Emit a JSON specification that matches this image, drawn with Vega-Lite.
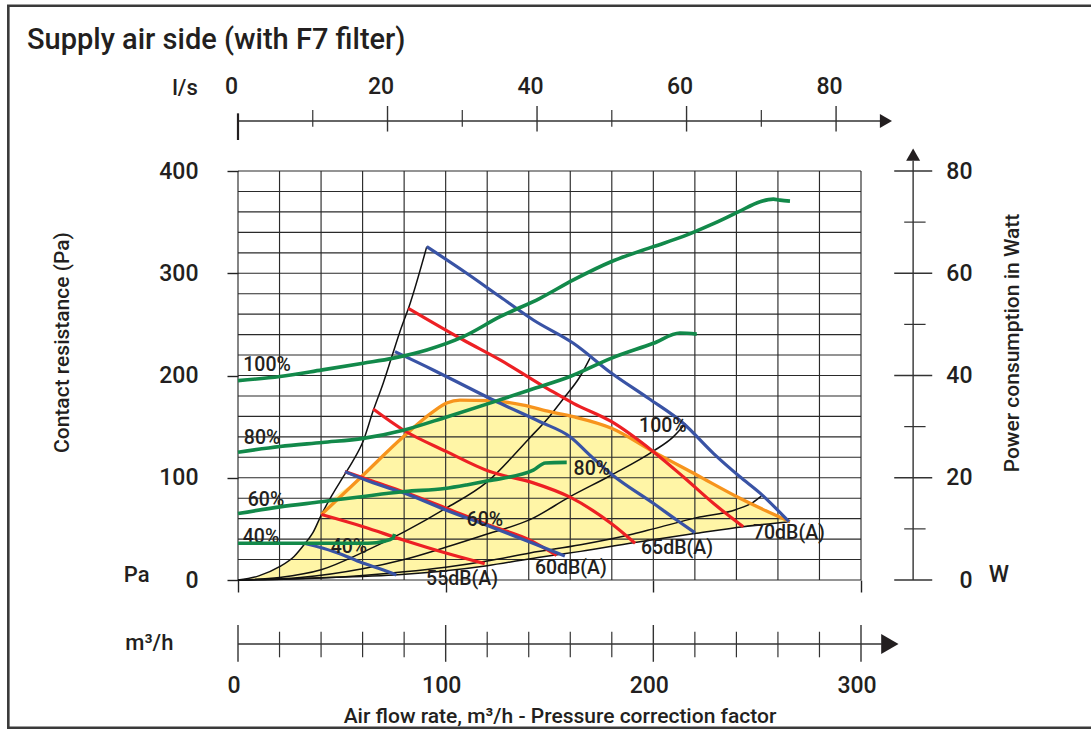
{
  "$schema": "https://vega.github.io/schema/vega-lite/v6.json",
  "width": 623,
  "height": 409,
  "autosize": {"type": "none"},
  "padding": {"left": 238, "top": 171, "right": 230, "bottom": 149},
  "background": "white",
  "config": {
    "view": {"stroke": null},
    "font": "Roboto",
    "axis": {"labelFont": "Roboto", "titleFont": "Roboto", "labelColor": "#231f20", "titleColor": "#231f20", "titleFontWeight": 500, "labelFontWeight": 500, "tickColor": "#333333", "grid": false}
  },
  "datasets": {
    "paTicks": [{"p":0},{"p":20},{"p":40},{"p":60},{"p":80},{"p":100},{"p":120},{"p":140},{"p":160},{"p":180},{"p":200},{"p":220},{"p":240},{"p":260},{"p":280},{"p":300},{"p":320},{"p":340},{"p":360},{"p":380},{"p":400}],
    "flowTicks": [{"q":0,"major":true},{"q":20,"major":false},{"q":40,"major":false},{"q":60,"major":false},{"q":80,"major":false},{"q":100,"major":true},{"q":120,"major":false},{"q":140,"major":false},{"q":160,"major":false},{"q":180,"major":false},{"q":200,"major":true},{"q":220,"major":false},{"q":240,"major":false},{"q":260,"major":false},{"q":280,"major":false},{"q":300,"major":true}],
    "wTicks": [{"w":0,"major":true},{"w":10,"major":false},{"w":20,"major":true},{"w":30,"major":false},{"w":40,"major":true},{"w":50,"major":false},{"w":60,"major":true},{"w":70,"major":false},{"w":80,"major":true}],
    "lsTicks": [{"ls":0,"kind":"origin"},{"ls":10,"kind":"minor"},{"ls":20,"kind":"major"},{"ls":30,"kind":"minor"},{"ls":40,"kind":"major"},{"ls":50,"kind":"minor"},{"ls":60,"kind":"major"},{"ls":70,"kind":"minor"},{"ls":80,"kind":"major"}],
    "zone": [
      {"x":0,"top":0,"bottom":0},{"x":10,"top":4,"bottom":0.4},{"x":20,"top":13,"bottom":0.8},{"x":27,"top":23,"bottom":1.3},{"x":32,"top":35,"bottom":1.7},{"x":36,"top":46,"bottom":2},{"x":40.2,"top":64,"bottom":2.2},{"x":58.7,"top":99.5,"bottom":3.4},{"x":79.6,"top":140,"bottom":5.8},{"x":94,"top":164.6,"bottom":8},{"x":100.5,"top":173,"bottom":9.1},{"x":106.9,"top":176,"bottom":10.4},{"x":121.3,"top":175.5,"bottom":14.3},{"x":137.4,"top":171,"bottom":19.7},{"x":150.2,"top":164.6,"bottom":23.7},{"x":161.5,"top":159.7,"bottom":27},{"x":179.9,"top":148.4,"bottom":33},{"x":200,"top":125.5,"bottom":39.4},{"x":220.9,"top":102.7,"bottom":45.7},{"x":241.7,"top":79.9,"bottom":51.7},{"x":265.8,"top":57,"bottom":57}
    ],
    "system": [
      {"curve":"c1","x":0,"pa":0},{"curve":"c1","x":10,"pa":4},{"curve":"c1","x":20,"pa":13},{"curve":"c1","x":27,"pa":23},{"curve":"c1","x":32,"pa":35},{"curve":"c1","x":36,"pa":46},{"curve":"c1","x":40.2,"pa":64},{"curve":"c1","x":45,"pa":82},{"curve":"c1","x":50.7,"pa":101},{"curve":"c1","x":55.5,"pa":117},{"curve":"c1","x":60.3,"pa":136},{"curve":"c1","x":65,"pa":165},{"curve":"c1","x":70,"pa":193},{"curve":"c1","x":74,"pa":218},{"curve":"c1","x":78,"pa":243},{"curve":"c1","x":82.8,"pa":270},{"curve":"c1","x":90.9,"pa":326},
      {"curve":"c2","x":0,"pa":0},{"curve":"c2","x":20,"pa":2.5},{"curve":"c2","x":40,"pa":10},{"curve":"c2","x":60,"pa":27},{"curve":"c2","x":80,"pa":47},{"curve":"c2","x":100,"pa":70},{"curve":"c2","x":120,"pa":96},{"curve":"c2","x":140,"pa":138},{"curve":"c2","x":150,"pa":160},{"curve":"c2","x":156.6,"pa":177},{"curve":"c2","x":165,"pa":200},{"curve":"c2","x":169.5,"pa":217},
      {"curve":"c3","x":0,"pa":0},{"curve":"c3","x":30,"pa":2.5},{"curve":"c3","x":60,"pa":11},{"curve":"c3","x":80,"pa":20},{"curve":"c3","x":100,"pa":32},{"curve":"c3","x":120,"pa":45},{"curve":"c3","x":140.6,"pa":59},{"curve":"c3","x":159.9,"pa":81.5},{"curve":"c3","x":179.9,"pa":102.7},{"curve":"c3","x":200,"pa":126},{"curve":"c3","x":209.6,"pa":140},{"curve":"c3","x":215.5,"pa":153},
      {"curve":"c4","x":0,"pa":0},{"curve":"c4","x":40,"pa":2},{"curve":"c4","x":60,"pa":4.5},{"curve":"c4","x":80,"pa":8},{"curve":"c4","x":100,"pa":12.5},{"curve":"c4","x":120,"pa":18.5},{"curve":"c4","x":140.6,"pa":26.5},{"curve":"c4","x":165,"pa":34.5},{"curve":"c4","x":190.3,"pa":45},{"curve":"c4","x":200,"pa":50},{"curve":"c4","x":220.9,"pa":61},{"curve":"c4","x":240,"pa":69},{"curve":"c4","x":248,"pa":76},{"curve":"c4","x":252,"pa":82},
      {"curve":"c5","x":0,"pa":0},{"curve":"c5","x":20,"pa":0.8},{"curve":"c5","x":40,"pa":2.2},{"curve":"c5","x":60,"pa":3.5},{"curve":"c5","x":75.4,"pa":5},{"curve":"c5","x":100,"pa":9},{"curve":"c5","x":120,"pa":14},{"curve":"c5","x":144.5,"pa":22},{"curve":"c5","x":165,"pa":28},{"curve":"c5","x":190.3,"pa":36.5},{"curve":"c5","x":220.9,"pa":45.7},{"curve":"c5","x":243.3,"pa":52.1},{"curve":"c5","x":265.8,"pa":57}
    ],
    "limit": [
      {"x":40.2,"pa":64},{"x":58.7,"pa":99.5},{"x":79.6,"pa":140},{"x":94,"pa":164.6},{"x":100.5,"pa":173},{"x":106.9,"pa":176},{"x":121.3,"pa":175.5},{"x":137.4,"pa":171},{"x":150.2,"pa":164.6},{"x":161.5,"pa":159.7},{"x":179.9,"pa":148.4},{"x":200,"pa":125.5},{"x":220.9,"pa":102.7},{"x":241.7,"pa":79.9},{"x":265.8,"pa":57}
    ],
    "fan": [
      {"speed":"100%","x":90.9,"pa":326},{"speed":"100%","x":110.1,"pa":300},{"speed":"100%","x":126.2,"pa":277},{"speed":"100%","x":142.2,"pa":254.3},{"speed":"100%","x":161.5,"pa":231.5},{"speed":"100%","x":179.9,"pa":202.2},{"speed":"100%","x":197.6,"pa":177.7},{"speed":"100%","x":214.4,"pa":153.3},{"speed":"100%","x":228.9,"pa":123.9},{"speed":"100%","x":241.7,"pa":101},{"speed":"100%","x":251.4,"pa":85},{"speed":"100%","x":265.3,"pa":57},
      {"speed":"80%","x":75.6,"pa":223.3},{"speed":"80%","x":94,"pa":205.4},{"speed":"80%","x":110.1,"pa":189},{"speed":"80%","x":122.9,"pa":176},{"speed":"80%","x":145.4,"pa":154.8},{"speed":"80%","x":159.9,"pa":140.1},{"speed":"80%","x":170,"pa":121},{"speed":"80%","x":180.3,"pa":102.7},{"speed":"80%","x":200,"pa":75},{"speed":"80%","x":211.2,"pa":58.7},{"speed":"80%","x":220,"pa":46.3},
      {"speed":"60%","x":51.5,"pa":106},{"speed":"60%","x":65,"pa":95},{"speed":"60%","x":80.3,"pa":84.8},{"speed":"60%","x":100,"pa":68.5},{"speed":"60%","x":120.4,"pa":53},{"speed":"60%","x":142,"pa":36},{"speed":"60%","x":157.4,"pa":23.5},
      {"speed":"40%","x":31.8,"pa":36},{"speed":"40%","x":41,"pa":31},{"speed":"40%","x":50,"pa":25},{"speed":"40%","x":59.4,"pa":17},{"speed":"40%","x":69,"pa":10.5},{"speed":"40%","x":76.2,"pa":5}
    ],
    "noise": [
      {"level":"55dB(A)","x":40.2,"pa":64},{"level":"55dB(A)","x":60.3,"pa":52.1},{"level":"55dB(A)","x":79.6,"pa":39.1},{"level":"55dB(A)","x":100.5,"pa":26.1},{"level":"55dB(A)","x":118.8,"pa":16},
      {"level":"60dB(A)","x":51.5,"pa":106},{"level":"60dB(A)","x":65,"pa":96.5},{"level":"60dB(A)","x":80,"pa":86},{"level":"60dB(A)","x":100.5,"pa":70},{"level":"60dB(A)","x":121,"pa":53.5},{"level":"60dB(A)","x":140.6,"pa":39},{"level":"60dB(A)","x":153.4,"pa":24},
      {"level":"65dB(A)","x":65.1,"pa":167.2},{"level":"65dB(A)","x":79.6,"pa":146.7},{"level":"65dB(A)","x":100.5,"pa":125.5},{"level":"65dB(A)","x":121.3,"pa":106},{"level":"65dB(A)","x":142.2,"pa":95},{"level":"65dB(A)","x":159.9,"pa":81},{"level":"65dB(A)","x":179.9,"pa":55},{"level":"65dB(A)","x":191.2,"pa":36},
      {"level":"70dB(A)","x":82,"pa":265.7},{"level":"70dB(A)","x":108.5,"pa":234.7},{"level":"70dB(A)","x":126.2,"pa":215.2},{"level":"70dB(A)","x":150.2,"pa":185.8},{"level":"70dB(A)","x":161.5,"pa":172.8},{"level":"70dB(A)","x":179.9,"pa":154.8},{"level":"70dB(A)","x":200,"pa":125.5},{"level":"70dB(A)","x":214.4,"pa":101},{"level":"70dB(A)","x":228.9,"pa":75},{"level":"70dB(A)","x":243.3,"pa":52.1}
    ],
    "power": [
      {"speed":"100%","x":0,"w":39},{"speed":"100%","x":20.2,"w":39.8},{"speed":"100%","x":40.6,"w":41.1},{"speed":"100%","x":60.3,"w":42.4},{"speed":"100%","x":74.8,"w":43.4},{"speed":"100%","x":90.9,"w":45},{"speed":"100%","x":108.5,"w":47.6},{"speed":"100%","x":126.2,"w":51.5},{"speed":"100%","x":145.4,"w":55.1},{"speed":"100%","x":161.5,"w":58.7},{"speed":"100%","x":179.9,"w":62.3},{"speed":"100%","x":200,"w":65.2},{"speed":"100%","x":214.4,"w":67.2},{"speed":"100%","x":227.3,"w":69.4},{"speed":"100%","x":240.9,"w":72},{"speed":"100%","x":251.4,"w":74},{"speed":"100%","x":257.8,"w":74.5},{"speed":"100%","x":261,"w":74.3},{"speed":"100%","x":265.8,"w":74.1},
      {"speed":"80%","x":0,"w":25},{"speed":"80%","x":20.2,"w":26.1},{"speed":"80%","x":40.6,"w":26.9},{"speed":"80%","x":60.3,"w":27.7},{"speed":"80%","x":79.6,"w":29.3},{"speed":"80%","x":100.5,"w":31.9},{"speed":"80%","x":121.3,"w":34.6},{"speed":"80%","x":142.2,"w":37.4},{"speed":"80%","x":159.9,"w":39.8},{"speed":"80%","x":179.9,"w":43.4},{"speed":"80%","x":200,"w":46.3},{"speed":"80%","x":212.8,"w":48.3},{"speed":"80%","x":220.9,"w":48.1},
      {"speed":"60%","x":0,"w":13},{"speed":"60%","x":20.2,"w":14.3},{"speed":"60%","x":40.1,"w":15.3},{"speed":"60%","x":59.4,"w":16.3},{"speed":"60%","x":80.3,"w":17.3},{"speed":"60%","x":99.5,"w":17.9},{"speed":"60%","x":110.1,"w":18.6},{"speed":"60%","x":120.4,"w":19.4},{"speed":"60%","x":142.2,"w":21.5},{"speed":"60%","x":148,"w":22.9},{"speed":"60%","x":158.3,"w":23},
      {"speed":"40%","x":0,"w":7.2},{"speed":"40%","x":30,"w":7.2},{"speed":"40%","x":62.6,"w":7.2},{"speed":"40%","x":70.6,"w":7.6},{"speed":"40%","x":74.6,"w":8.2},{"speed":"40%","x":75.4,"w":9}
    ],
    "labels": [
      {"text":"100%","x":14,"pa":210.3},{"text":"80%","x":11.6,"pa":138.9},{"text":"60%","x":13.5,"pa":78.2},{"text":"40%","x":11.1,"pa":42.1},
      {"text":"40%","x":53.4,"pa":32.3},{"text":"60%","x":118.9,"pa":58.7},{"text":"80%","x":170.4,"pa":108.6},{"text":"100%","x":204.6,"pa":150.6},
      {"text":"55dB(A)","x":107.9,"pa":1},{"text":"60dB(A)","x":160.3,"pa":11.7},{"text":"65dB(A)","x":211.4,"pa":31.3},{"text":"70dB(A)","x":265.3,"pa":45.6}
    ]
  },
  "layer": [
    {
      "layer": [
        {
          "data": {"values": [{}]},
          "mark": {"type": "rect", "fillOpacity": 0, "stroke": "#3a3a3a", "strokeWidth": 2.6},
          "encoding": {
            "x": {"datum": -110.6, "type": "quantitative", "scale": {"domain": [0, 300], "nice": false, "zero": false}},
            "x2": {"datum": 413},
            "y": {"datum": 561.6, "type": "quantitative", "scale": {"domain": [0, 400], "nice": false, "zero": false}},
            "y2": {"datum": -144.5}
          }
        },
        {
          "data": {"name": "zone"},
          "mark": {"type": "area", "color": "#fff5a6", "interpolate": "monotone"},
          "encoding": {
            "x": {"field": "x", "type": "quantitative", "scale": {"domain": [0, 300], "nice": false, "zero": false},
              "axis": {"values": [0, 100, 200, 300], "labels": false, "domain": false, "grid": false, "tickSize": 12, "tickColor": "#222222", "tickWidth": 1.4,
                "title": "Air flow rate, m³/h - Pressure correction factor", "titleFontSize": 21, "titleX": 321.5, "titleY": 136, "titleAlign": "center", "titleBaseline": "middle"}},
            "y": {"field": "top", "type": "quantitative", "scale": {"domain": [0, 400], "nice": false, "zero": false},
              "axis": {"orient": "left", "values": [0, 100, 200, 300, 400], "tickSize": 11, "tickColor": "#222222", "tickWidth": 1.4, "labelPadding": 29, "labelFontSize": 23, "domain": false, "grid": false,
                "title": "Contact resistance (Pa)", "titleFontSize": 21, "titleX": -176, "titleY": 171, "titleAngle": -90, "titleAlign": "center", "titleBaseline": "middle"}},
            "y2": {"field": "bottom"}
          }
        },
        {
          "data": {"name": "flowTicks"},
          "mark": {"type": "rule", "color": "#2a2a2a", "strokeWidth": 1.15},
          "encoding": {
            "x": {"field": "q", "type": "quantitative", "scale": {"domain": [0, 300], "nice": false, "zero": false}},
            "y": {"datum": 0, "type": "quantitative", "scale": {"domain": [0, 400], "nice": false, "zero": false}},
            "y2": {"datum": 400}
          }
        },
        {
          "data": {"name": "paTicks"},
          "mark": {"type": "rule", "color": "#2a2a2a", "strokeWidth": 1.15},
          "encoding": {
            "y": {"field": "p", "type": "quantitative", "scale": {"domain": [0, 400], "nice": false, "zero": false}},
            "x": {"datum": 0, "type": "quantitative", "scale": {"domain": [0, 300], "nice": false, "zero": false}},
            "x2": {"datum": 300}
          }
        },
        {
          "data": {"name": "system"},
          "mark": {"type": "line", "color": "#111111", "strokeWidth": 1.5, "interpolate": "monotone"},
          "encoding": {
            "x": {"field": "x", "type": "quantitative"},
            "y": {"field": "pa", "type": "quantitative"},
            "detail": {"field": "curve"}
          }
        },
        {
          "data": {"name": "limit"},
          "mark": {"type": "line", "color": "#f7941d", "strokeWidth": 3.3, "interpolate": "monotone"},
          "encoding": {
            "x": {"field": "x", "type": "quantitative"},
            "y": {"field": "pa", "type": "quantitative"}
          }
        },
        {
          "data": {"name": "noise"},
          "mark": {"type": "line", "color": "#ed2024", "strokeWidth": 3.2, "interpolate": "monotone"},
          "encoding": {
            "x": {"field": "x", "type": "quantitative"},
            "y": {"field": "pa", "type": "quantitative"},
            "detail": {"field": "level"}
          }
        },
        {
          "data": {"name": "fan"},
          "mark": {"type": "line", "color": "#3953a5", "strokeWidth": 3.2, "interpolate": "monotone"},
          "encoding": {
            "x": {"field": "x", "type": "quantitative"},
            "y": {"field": "pa", "type": "quantitative"},
            "detail": {"field": "speed"}
          }
        },
        {
          "data": {"values": [{}]},
          "mark": {"type": "rule", "color": "#333333", "strokeWidth": 1.3},
          "encoding": {
            "x": {"datum": 0, "type": "quantitative"},
            "x2": {"datum": 310},
            "y": {"datum": -62.6, "type": "quantitative"}
          }
        },
        {
          "data": {"name": "flowTicks"},
          "transform": [{"filter": "datum.major"}],
          "mark": {"type": "rule", "color": "#333333", "strokeWidth": 1.4},
          "encoding": {
            "x": {"field": "q", "type": "quantitative"},
            "y": {"datum": -44, "type": "quantitative"},
            "y2": {"datum": -80}
          }
        },
        {
          "data": {"name": "flowTicks"},
          "transform": [{"filter": "!datum.major"}],
          "mark": {"type": "rule", "color": "#333333", "strokeWidth": 1.2},
          "encoding": {
            "x": {"field": "q", "type": "quantitative"},
            "y": {"datum": -50.6, "type": "quantitative"},
            "y2": {"datum": -75.6}
          }
        },
        {
          "data": {"values": [{}]},
          "mark": {"type": "point", "shape": "triangle-right", "filled": true, "color": "#231f20", "size": 400, "opacity": 1},
          "encoding": {
            "x": {"datum": 313.9, "type": "quantitative"},
            "y": {"datum": -62.6, "type": "quantitative"}
          }
        },
        {
          "data": {"name": "flowTicks"},
          "transform": [{"filter": "datum.major"}],
          "mark": {"type": "text", "font": "Roboto", "fontSize": 23, "fontWeight": 500, "color": "#231f20", "dx": -4, "baseline": "middle", "align": "center"},
          "encoding": {
            "x": {"field": "q", "type": "quantitative"},
            "y": {"datum": -103.7, "type": "quantitative"},
            "text": {"field": "q", "type": "quantitative"}
          }
        },
        {
          "data": {"values": [{}]},
          "mark": {"type": "text", "text": "Pa", "font": "Roboto", "fontSize": 22, "fontWeight": 500, "color": "#231f20", "baseline": "middle", "align": "center"},
          "encoding": {
            "x": {"datum": -48.8, "type": "quantitative"},
            "y": {"datum": 4.9, "type": "quantitative"}
          }
        },
        {
          "data": {"values": [{}]},
          "mark": {"type": "text", "text": "m³/h", "font": "Roboto", "fontSize": 22, "fontWeight": 500, "color": "#231f20", "baseline": "middle", "align": "center"},
          "encoding": {
            "x": {"datum": -42.7, "type": "quantitative"},
            "y": {"datum": -61.6, "type": "quantitative"}
          }
        },
        {
          "data": {"name": "labels"},
          "mark": {"type": "text", "font": "Roboto", "fontSize": 19.5, "fontWeight": 500, "color": "#231f20", "baseline": "middle", "align": "center"},
          "encoding": {
            "x": {"field": "x", "type": "quantitative"},
            "y": {"field": "pa", "type": "quantitative"},
            "text": {"field": "text"}
          }
        },
        {
          "data": {"values": [{}]},
          "mark": {"type": "text", "text": "Supply air side (with F7 filter)", "font": "Roboto", "fontSize": 29, "fontWeight": 500, "color": "#231f20", "baseline": "alphabetic", "align": "left"},
          "encoding": {
            "x": {"datum": -101.6, "type": "quantitative"},
            "y": {"datum": 519.5, "type": "quantitative"}
          }
        }
      ]
    },
    {
      "layer": [
        {
          "data": {"name": "power"},
          "mark": {"type": "line", "color": "#12894a", "strokeWidth": 3.6, "interpolate": "monotone"},
          "encoding": {
            "x": {"field": "x", "type": "quantitative", "scale": {"domain": [0, 300], "nice": false, "zero": false}, "axis": null},
            "y": {"field": "w", "type": "quantitative", "scale": {"domain": [0, 80], "nice": false, "zero": false},
              "axis": {"orient": "right", "values": [0, 20, 40, 60, 80], "ticks": false, "tickSize": 0, "domain": false, "grid": false, "labelAlign": "right", "labelPadding": 111, "labelFontSize": 23,
                "title": "Power consumption in Watt", "titleFontSize": 21, "titleX": 151.5, "titleY": 171.5, "titleAngle": -90, "titleAlign": "center", "titleBaseline": "middle"}},
            "detail": {"field": "speed"}
          }
        },
        {
          "data": {"values": [{}]},
          "mark": {"type": "rule", "color": "#333333", "strokeWidth": 1.4},
          "encoding": {
            "x": {"datum": 325.1, "type": "quantitative", "axis": null},
            "y": {"datum": 0, "type": "quantitative"},
            "y2": {"datum": 82}
          }
        },
        {
          "data": {"name": "wTicks"},
          "transform": [{"filter": "datum.major"}],
          "mark": {"type": "rule", "color": "#333333", "strokeWidth": 1.4},
          "encoding": {
            "y": {"field": "w", "type": "quantitative"},
            "x": {"datum": 316, "type": "quantitative", "axis": null},
            "x2": {"datum": 334.3}
          }
        },
        {
          "data": {"name": "wTicks"},
          "transform": [{"filter": "!datum.major"}],
          "mark": {"type": "rule", "color": "#333333", "strokeWidth": 1.2},
          "encoding": {
            "y": {"field": "w", "type": "quantitative"},
            "x": {"datum": 320.8, "type": "quantitative", "axis": null},
            "x2": {"datum": 331.1}
          }
        },
        {
          "data": {"values": [{}]},
          "mark": {"type": "point", "shape": "triangle-up", "filled": true, "color": "#231f20", "size": 196, "opacity": 1},
          "encoding": {
            "x": {"datum": 325.1, "type": "quantitative", "axis": null},
            "y": {"datum": 83.2, "type": "quantitative"}
          }
        },
        {
          "data": {"values": [{}]},
          "mark": {"type": "text", "text": "W", "font": "Roboto", "fontSize": 23, "fontWeight": 500, "color": "#231f20", "baseline": "middle", "align": "center"},
          "encoding": {
            "x": {"datum": 366.4, "type": "quantitative", "axis": null},
            "y": {"datum": 1, "type": "quantitative"}
          }
        }
      ]
    },
    {
      "layer": [
        {
          "data": {"values": [{}]},
          "mark": {"type": "rule", "color": "#333333", "strokeWidth": 1.3},
          "encoding": {
            "x": {"datum": 0, "type": "quantitative", "scale": {"domain": [0, 83.3333], "nice": false, "zero": false}, "axis": null},
            "x2": {"datum": 86},
            "y": {"datum": 448.9, "type": "quantitative", "scale": {"domain": [0, 400], "nice": false, "zero": false}, "axis": null}
          }
        },
        {
          "data": {"values": [{}]},
          "mark": {"type": "rule", "color": "#231f20", "strokeWidth": 2.2},
          "encoding": {
            "x": {"datum": 0, "type": "quantitative", "axis": null},
            "y": {"datum": 456.4, "type": "quantitative", "axis": null},
            "y2": {"datum": 430.3}
          }
        },
        {
          "data": {"name": "lsTicks"},
          "transform": [{"filter": "datum.kind == 'major'"}],
          "mark": {"type": "rule", "color": "#333333", "strokeWidth": 1.4},
          "encoding": {
            "x": {"field": "ls", "type": "quantitative", "axis": null},
            "y": {"datum": 463.6, "type": "quantitative", "axis": null},
            "y2": {"datum": 438.6}
          }
        },
        {
          "data": {"name": "lsTicks"},
          "transform": [{"filter": "datum.kind == 'minor'"}],
          "mark": {"type": "rule", "color": "#333333", "strokeWidth": 1.2},
          "encoding": {
            "x": {"field": "ls", "type": "quantitative", "axis": null},
            "y": {"datum": 459.7, "type": "quantitative", "axis": null},
            "y2": {"datum": 443.3}
          }
        },
        {
          "data": {"values": [{}]},
          "mark": {"type": "point", "shape": "triangle-right", "filled": true, "color": "#231f20", "size": 196, "opacity": 1},
          "encoding": {
            "x": {"datum": 86.67, "type": "quantitative", "axis": null},
            "y": {"datum": 448.9, "type": "quantitative", "axis": null}
          }
        },
        {
          "data": {"name": "lsTicks"},
          "transform": [{"filter": "datum.kind != 'minor'"}],
          "mark": {"type": "text", "font": "Roboto", "fontSize": 23, "fontWeight": 500, "color": "#231f20", "dx": -6.5, "baseline": "middle", "align": "center"},
          "encoding": {
            "x": {"field": "ls", "type": "quantitative", "axis": null},
            "y": {"datum": 481.7, "type": "quantitative", "axis": null},
            "text": {"field": "ls", "type": "quantitative"}
          }
        },
        {
          "data": {"values": [{}]},
          "mark": {"type": "text", "text": "l/s", "font": "Roboto", "fontSize": 22, "fontWeight": 500, "color": "#231f20", "baseline": "middle", "align": "center"},
          "encoding": {
            "x": {"datum": -7.09, "type": "quantitative", "axis": null},
            "y": {"datum": 481.2, "type": "quantitative", "axis": null}
          }
        }
      ]
    }
  ],
  "resolve": {"scale": {"x": "independent", "y": "independent"}}
}
